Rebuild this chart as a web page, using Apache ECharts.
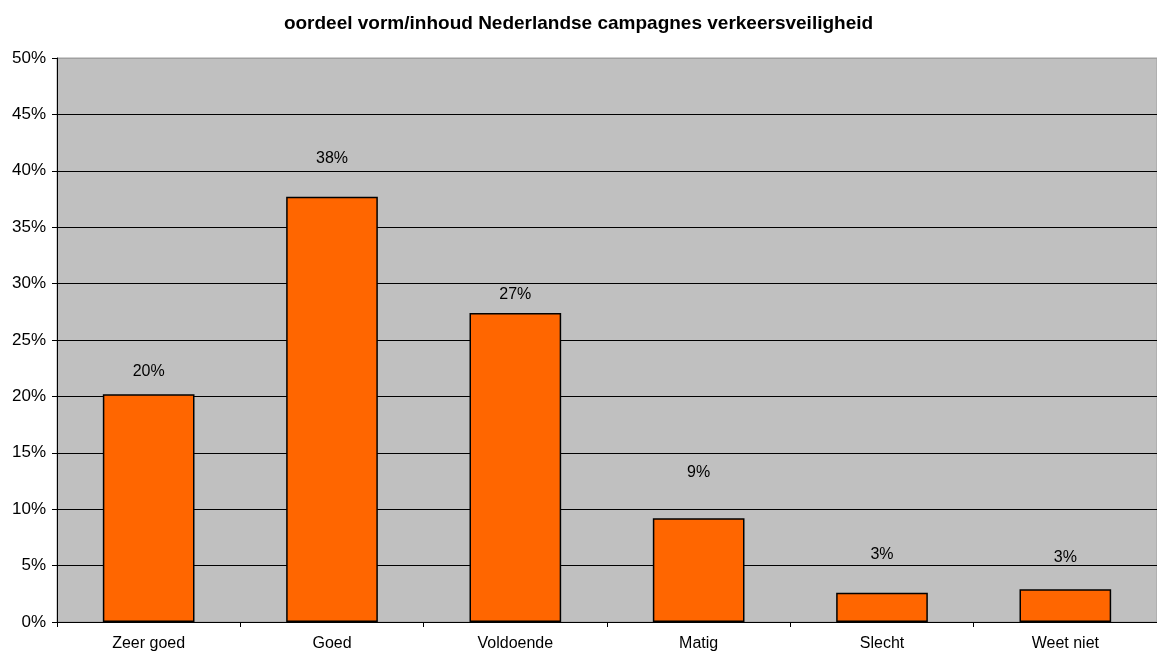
<!DOCTYPE html>
<html>
<head>
<meta charset="utf-8">
<script src="https://cdn.jsdelivr.net/npm/echarts@6/dist/echarts.min.js"></script>
<style>
  html, body { margin: 0; padding: 0; background: #fff; }
  #chart { width: 1157px; height: 654px; }
</style>
</head>
<body>
<div id="chart"></div>
<script>
var titleText = 'oordeel vorm/inhoud Nederlandse campagnes verkeersveiligheid'
var categories = ['Zeer goed', 'Goed', 'Voldoende', 'Matig', 'Slecht', 'Weet niet']
var values = [20.2, 37.7, 27.4, 9.2, 2.6, 2.9]
// gap between bar top and its label, as placed in the original
var labelGap = [15, 30, 10, 38, 30, 24]

var chart = echarts.init(document.getElementById('chart'))

// gridlines: black, except the top one which is the grey plot border
var gridColors = []
for (var i = 0; i < 10; i++) gridColors.push('#000000')
gridColors.push('#a0a0a0')

chart.setOption({
  animation: false,
  textStyle: { fontFamily: 'Liberation Sans, Arial, sans-serif' },
  title: {
    text: titleText,
    left: 'center',
    top: 9,
    textStyle: { fontSize: 19, fontWeight: 'bold', color: '#000' }
  },
  grid: {
    left: 57,
    right: 0,
    top: 58,
    bottom: 32,
    show: true,
    backgroundColor: '#c0c0c0',
    borderColor: '#a0a0a0',
    borderWidth: 1
  },
  xAxis: {
    type: 'category',
    data: categories,
    axisLine: { lineStyle: { color: '#000', width: 1 } },
    axisTick: { show: true, alignWithLabel: false, length: 5, lineStyle: { color: '#000' } },
    axisLabel: { color: '#000', fontSize: 16, margin: 14 }
  },
  yAxis: {
    type: 'value',
    min: 0,
    max: 50,
    interval: 5,
    axisLine: { show: true, lineStyle: { color: '#000', width: 1 } },
    axisTick: { show: true, length: 5, lineStyle: { color: '#000' } },
    axisLabel: { color: '#000', fontSize: 17, margin: 11, formatter: '{value}%' },
    splitLine: { show: true, lineStyle: { color: gridColors, width: 1 } }
  },
  series: [
    {
      type: 'bar',
      data: values.map(function (v, i) {
        return { value: v, label: { distance: labelGap[i] } }
      }),
      barWidth: '50%',
      itemStyle: { color: '#ff6600', borderColor: '#000', borderWidth: 1.5 },
      label: {
        show: true,
        position: 'top',
        color: '#000',
        fontSize: 16,
        formatter: function (p) { return Math.round(p.value) + '%' }
      }
    }
  ]
})
</script>
</body>
</html>
